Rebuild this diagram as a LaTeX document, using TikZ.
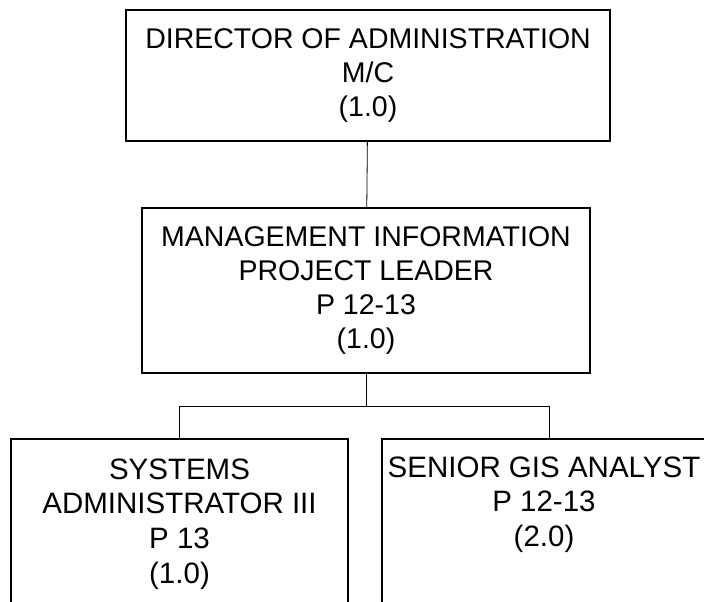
\documentclass[tikz,border=0pt]{standalone}
\usepackage{fontspec}
\setmainfont{Liberation Sans}
\usepackage{tikz}

\begin{document}
\begin{tikzpicture}[
    x=1pt, y=-1pt,
    post/.style={draw, rectangle, line width=1.6pt, align=center, inner sep=0pt,
        font=\fontsize{28.5}{34.3}\selectfont},
    lowpost/.style={post, minimum height=170pt, font=\fontsize{29.5}{34.6}\selectfont},
    link/.style={line width=0.8pt}
]
\useasboundingbox (0,0) rectangle (704,602);
\clip (0,0) rectangle (704,602);
\node[post, minimum width=484pt, minimum height=131pt] (dir) at (368,75.5) {DIRECTOR OF ADMINISTRATION\\M/C\\(1.0)};
\node[post, minimum width=448pt, minimum height=165pt] (mip) at (366,290.5) {MANAGEMENT INFORMATION\\PROJECT LEADER\\P 12-13\\(1.0)};
\node[lowpost, minimum width=337pt] (sysadm) at (179.5,524) {SYSTEMS\\ADMINISTRATOR III\\P 13\\(1.0)};
\node[lowpost, minimum width=324pt] (gis) at (544,524) {SENIOR GIS ANALYST\\P 12-13\\(2.0)\\\strut};

\draw[link] (dir) -- (mip);
\draw[link] (mip.south) -- ++(0,33) coordinate (bar);
\draw[link] (sysadm.north) |- (bar) -| ([xshift=5pt]gis.north);
\end{tikzpicture}
\end{document}
